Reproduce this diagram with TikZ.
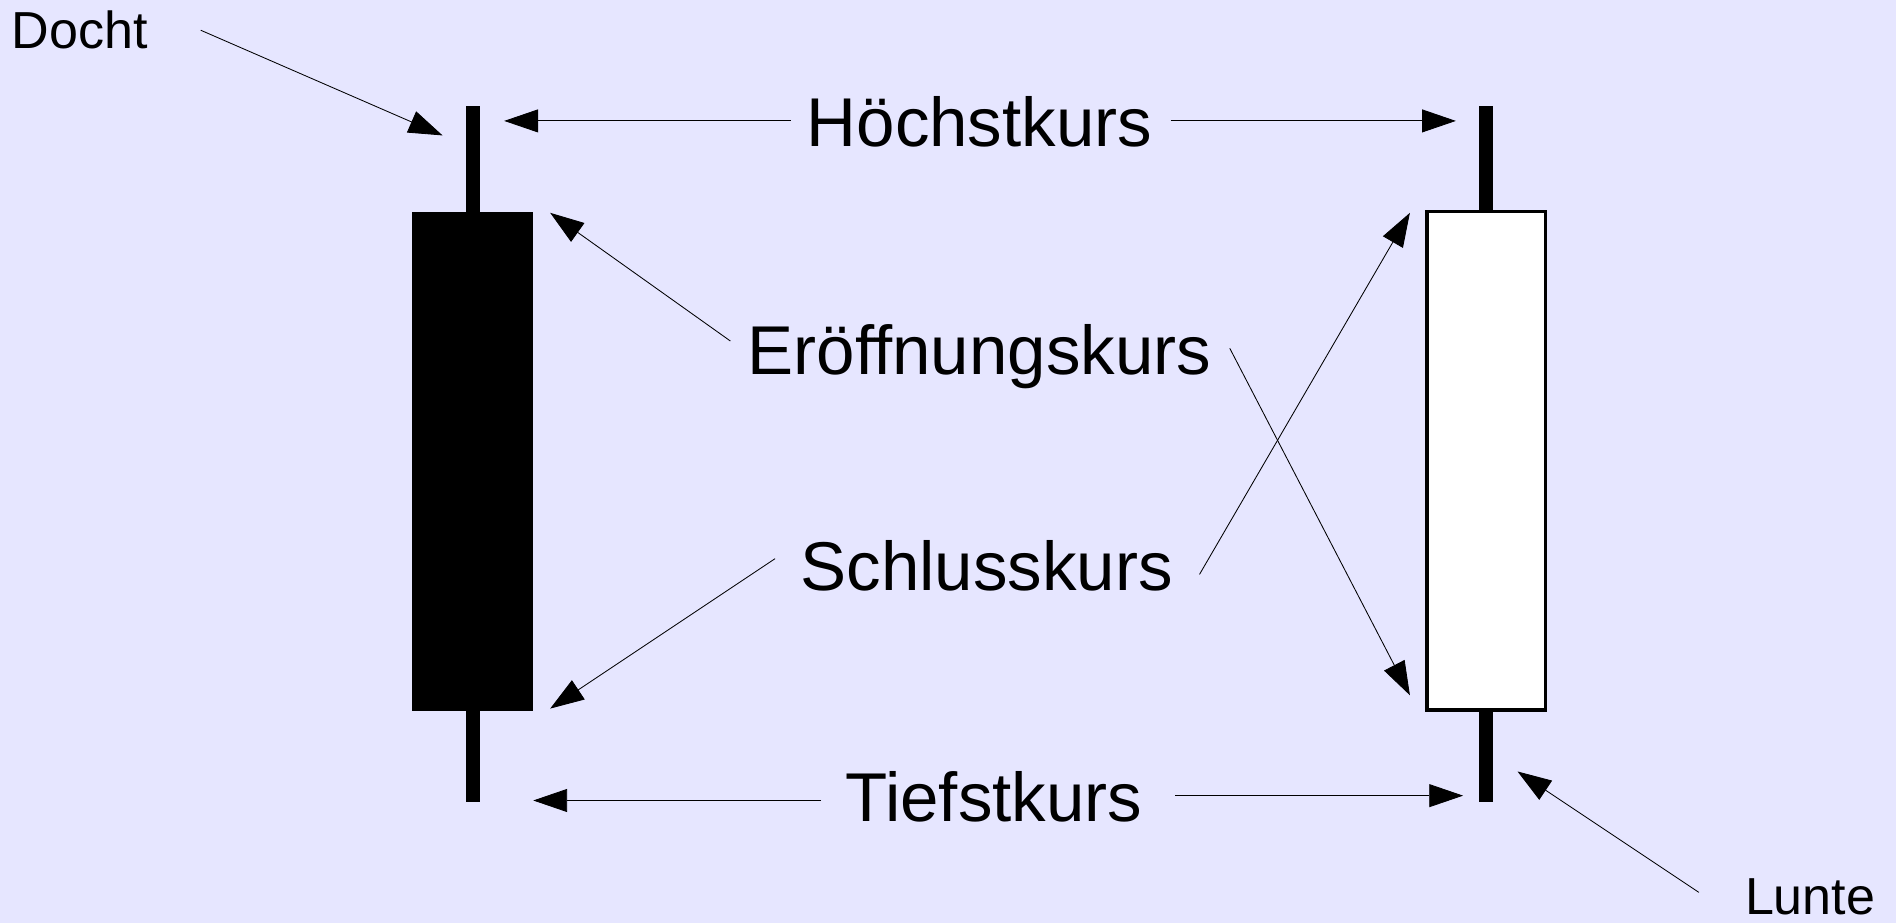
\documentclass[tikz,border=0pt]{standalone}
\usepackage{fontspec}
\setmainfont{Liberation Sans}
\usetikzlibrary{arrows.meta}
\definecolor{lavbg}{HTML}{E6E6FF}

\begin{document}
\begin{tikzpicture}[x=0.2mm,y=-0.2mm,
    pfeil/.style={thin,-{Triangle[length=5.6mm,width=3.8mm]}},
    kurs/.style={anchor=base,font=\fontsize{32.5}{38}\selectfont},
    teil/.style={anchor=base,font=\fontsize{24.5}{30}\selectfont}]
     \fill[lavbg] (0,0) rectangle (1568,763);
     \useasboundingbox (0,0) rectangle (1568,763);

     % Kerzen
     \fill[black] (385,88) rectangle (397,663);
     \fill[black] (341,175) rectangle (441,588);
     \fill[black] (1223,88) rectangle (1235,663);
     \filldraw[fill=white,draw=black,line width=0.6mm] (1180,175) rectangle (1278,587);

     % Texte
     \path (66,40) node[teil] (docht) {Docht};
     \path (1497,756) node[teil] (lunte) {Lunte};
     \path (810,121) node[kurs] (hoch) {Höchstkurs};
     \path (810,310) node[kurs] (eroeff) {Eröffnungskurs};
     \path (816,488) node[kurs] (schluss) {Schlusskurs};
     \path (822,679) node[kurs] (tief) {Tiefstkurs};

     % Pfeilenden
     \coordinate (dA) at (166,25);     \coordinate (dB) at (366,112);
     \coordinate (hA) at (654,100);    \coordinate (hB) at (417,100);
     \coordinate (hC) at (968,100);    \coordinate (hD) at (1204,100);
     \coordinate (eA) at (604,282);    \coordinate (eB) at (455,176);
     \coordinate (eC) at (1017,288);   \coordinate (eD) at (1166,575);
     \coordinate (sA) at (641,462);    \coordinate (sB) at (455,586);
     \coordinate (sC) at (992,475);    \coordinate (sD) at (1166,176);
     \coordinate (tA) at (679,662);    \coordinate (tB) at (441,662);
     \coordinate (tC) at (972,658);    \coordinate (tD) at (1210,658);
     \coordinate (lA) at (1405,738);   \coordinate (lB) at (1255,638);

     \draw[pfeil] (dA) -- (dB);
     \draw[pfeil] (hA) -- (hB);
     \draw[pfeil] (hC) -- (hD);
     \draw[pfeil] (eA) -- (eB);
     \draw[pfeil] (eC) -- (eD);
     \draw[pfeil] (sA) -- (sB);
     \draw[pfeil] (sC) -- (sD);
     \draw[pfeil] (tA) -- (tB);
     \draw[pfeil] (tC) -- (tD);
     \draw[pfeil] (lA) -- (lB);
\end{tikzpicture}
\end{document}
